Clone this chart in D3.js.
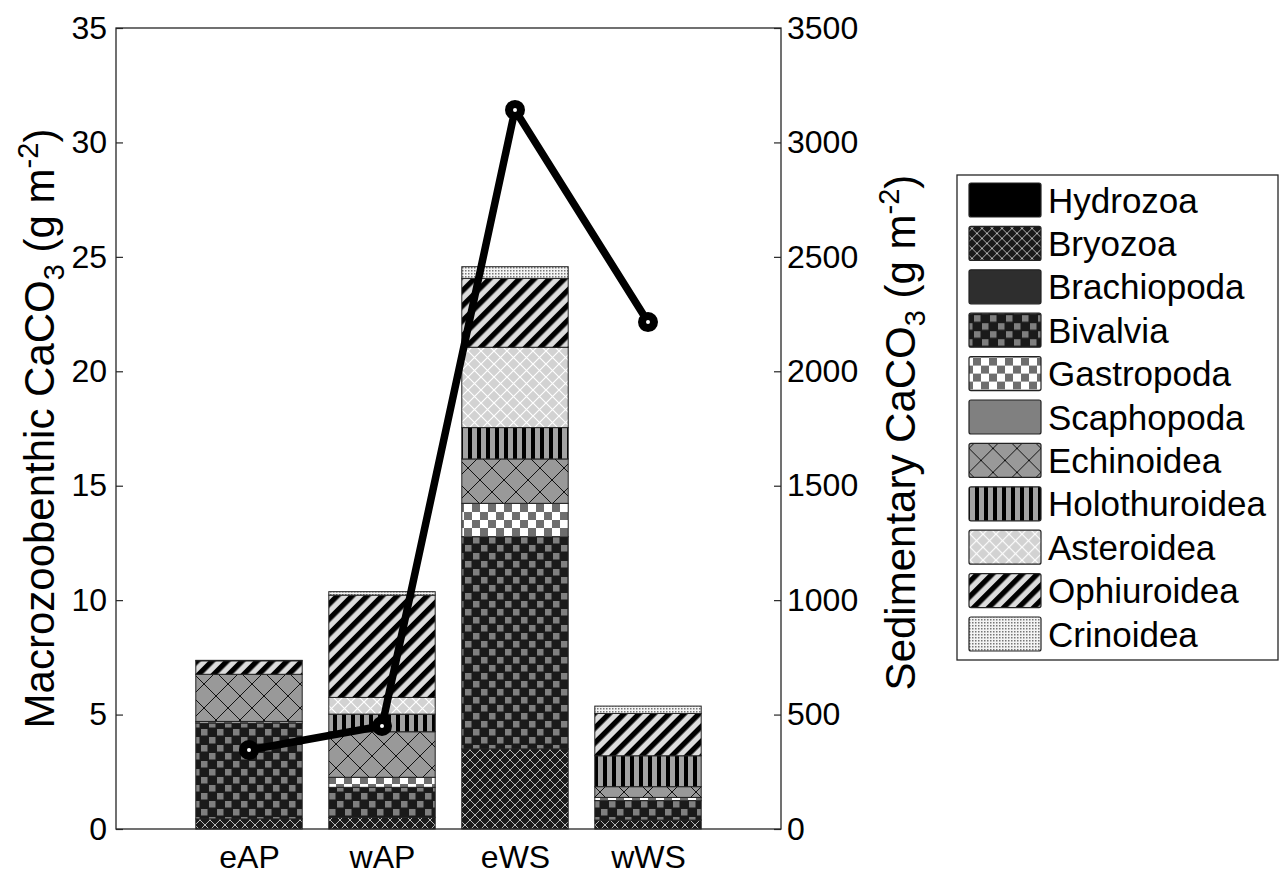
<!DOCTYPE html>
<html>
<head>
<meta charset="utf-8">
<script src="https://cdn.jsdelivr.net/npm/d3@7"></script>
<style>
  body { margin: 0; background: #fff; }
  text { font-family: "Liberation Sans", Arial, sans-serif; fill: #000; }
</style>
</head>
<body>
<script>
// Sites on the x axis
const sites = ["eAP", "wAP", "eWS", "wWS"];

// Macrozoobenthic CaCO3 per taxon (g m-2), one value per site
const hydrozoa      = [0,    0,    0,    0];
const bryozoa       = [0.44, 0.51, 3.50, 0.39];
const brachiopoda   = [0,    0,    0,    0];
const bivalvia      = [4.19, 1.31, 9.27, 0.85];
const gastropoda    = [0.07, 0.44, 1.46, 0.14];
const scaphopoda    = [0,    0,    0,    0];
const echinoidea    = [2.06, 1.99, 1.94, 0.47];
const holothuroidea = [0,    0.77, 1.37, 1.35];
const asteroidea    = [0,    0.73, 3.51, 0];
const ophiuroidea   = [0.59, 4.47, 3.01, 1.85];
const crinoidea     = [0.02, 0.15, 0.51, 0.32];

// Sedimentary CaCO3 (g m-2), right axis
const sediment = [345, 450, 3142, 2215];

const taxa = ["Hydrozoa", "Bryozoa", "Brachiopoda", "Bivalvia", "Gastropoda", "Scaphopoda",
              "Echinoidea", "Holothuroidea", "Asteroidea", "Ophiuroidea", "Crinoidea"];
const taxaValues = [hydrozoa, bryozoa, brachiopoda, bivalvia, gastropoda, scaphopoda,
                    echinoidea, holothuroidea, asteroidea, ophiuroidea, crinoidea];

const leftTicks = d3.range(0, 36, 5);
const rightTicks = d3.range(0, 3501, 500);

// table for d3.stack
const table = sites.map((s, i) => {
    const row = { site: s };
    taxa.forEach((t, j) => row[t] = taxaValues[j][i]);
    return row;
});

const W = 1282, H = 878;
const margin = { top: 28, right: 501, bottom: 49, left: 116 };
const x0 = margin.left, x1 = W - margin.right, y0 = H - margin.bottom, y1 = margin.top;

const svg = d3.select("body").append("svg")
    .attr("width", W)
    .attr("height", H);

// patterns
const defs = svg.append("defs");
function pat(id, w, h, transform) {
    const p = defs.append("pattern")
        .attr("id", id)
        .attr("patternUnits", "userSpaceOnUse")
        .attr("width", w)
        .attr("height", h);
    if (transform) p.attr("patternTransform", transform);
    return p;
}
let p;
p = pat("p-bryozoa", 10, 10);
p.append("rect").attr("width", 10).attr("height", 10).attr("fill", "#1a1a1a");
p.append("path").attr("d", "M0,0L10,10M10,0L0,10").attr("stroke", "#b5b5b5").attr("stroke-width", 1);

p = pat("p-bivalvia", 16, 16);
p.append("rect").attr("width", 16).attr("height", 16).attr("fill", "#1a1a1a");
p.append("rect").attr("x", 1).attr("y", 1).attr("width", 6.5).attr("height", 6.5).attr("fill", "#7f7f7f");
p.append("rect").attr("x", 9).attr("y", 9).attr("width", 6.5).attr("height", 6.5).attr("fill", "#7f7f7f");

p = pat("p-gastropoda", 16, 16);
p.append("rect").attr("width", 16).attr("height", 16).attr("fill", "#fff");
p.append("rect").attr("width", 8).attr("height", 8).attr("fill", "#6e6e6e");
p.append("rect").attr("x", 8).attr("y", 8).attr("width", 8).attr("height", 8).attr("fill", "#6e6e6e");

p = pat("p-echinoidea", 24, 24);
p.append("rect").attr("width", 24).attr("height", 24).attr("fill", "#999");
p.append("path").attr("d", "M0,0L24,24M24,0L0,24").attr("stroke", "#111").attr("stroke-width", 1);

p = pat("p-holothuroidea", 9, 9);
p.append("rect").attr("width", 9).attr("height", 9).attr("fill", "#a3a3a3");
p.append("rect").attr("width", 4).attr("height", 9).attr("fill", "#000");

p = pat("p-asteroidea", 13, 13);
p.append("rect").attr("width", 13).attr("height", 13).attr("fill", "#d2d2d2");
p.append("path").attr("d", "M0,0L13,13M13,0L0,13").attr("stroke", "#fff").attr("stroke-width", 1.2);

p = pat("p-ophiuroidea", 10.6, 10.6, "rotate(45)");
p.append("rect").attr("width", 10.6).attr("height", 10.6).attr("fill", "#dcdcdc");
p.append("rect").attr("width", 5.3).attr("height", 10.6).attr("fill", "#000");

p = pat("p-crinoidea", 3, 3);
p.append("rect").attr("width", 3).attr("height", 3).attr("fill", "#f4f4f4");
p.append("rect").attr("width", 1.5).attr("height", 1.5).attr("fill", "#777");

const fills = {
    Hydrozoa: "#000",
    Bryozoa: "url(#p-bryozoa)",
    Brachiopoda: "#2e2e2e",
    Bivalvia: "url(#p-bivalvia)",
    Gastropoda: "url(#p-gastropoda)",
    Scaphopoda: "#808080",
    Echinoidea: "url(#p-echinoidea)",
    Holothuroidea: "url(#p-holothuroidea)",
    Asteroidea: "url(#p-asteroidea)",
    Ophiuroidea: "url(#p-ophiuroidea)",
    Crinoidea: "url(#p-crinoidea)"
};

// scales
const x = d3.scaleLinear().domain([0, sites.length + 1]).range([x0, x1]);
const yL = d3.scaleLinear().domain([0, 35]).range([y0, y1]);
const yR = d3.scaleLinear().domain([0, 3500]).range([y0, y1]);
const barW = 0.8 * (x(1) - x(0));

// axes (ticks pointing inward)
const axisColor = "#262626";
const gL = svg.append("g").attr("transform", `translate(${x0},0)`)
    .call(d3.axisRight(yL).tickValues(leftTicks).tickSize(7).tickFormat(d3.format("d")));
gL.selectAll("text").attr("x", -9).attr("text-anchor", "end");
const gR = svg.append("g").attr("transform", `translate(${x1},0)`)
    .call(d3.axisLeft(yR).tickValues(rightTicks).tickSize(7).tickFormat(d3.format("d")));
gR.selectAll("text").attr("x", 6).attr("text-anchor", "start");
const gB = svg.append("g").attr("transform", `translate(0,${y0})`)
    .call(d3.axisTop(x).tickValues(d3.range(1, sites.length + 1)).tickSize(7)
        .tickFormat(d => sites[d - 1]));
gB.selectAll("text").attr("y", 39).attr("dy", "0");
[gL, gR, gB].forEach(g => {
    g.select(".domain").remove();
    g.selectAll("line").attr("stroke", axisColor).attr("stroke-width", 1.2);
    g.selectAll("text").style("font-size", "32px").attr("fill", "#000");
});

// stacked bars
const stack = d3.stack().keys(taxa);
const series = stack(table);

svg.append("g")
    .selectAll("g")
    .data(series)
    .join("g")
    .attr("fill", d => fills[d.key])
    .selectAll("rect")
    .data(d => d.filter(s => s[1] - s[0] > 0))
    .join("rect")
    .attr("x", (d) => x(sites.indexOf(d.data.site) + 1) - barW / 2)
    .attr("y", d => yL(d[1]))
    .attr("width", barW)
    .attr("height", d => yL(d[0]) - yL(d[1]))
    .attr("stroke", "#222")
    .attr("stroke-width", 1);

// box
svg.append("rect")
    .attr("x", x0).attr("y", y1)
    .attr("width", x1 - x0).attr("height", y0 - y1)
    .attr("fill", "none")
    .attr("stroke", axisColor)
    .attr("stroke-width", 1.3);

// sediment line
const line = d3.line()
    .x((d, i) => x(i + 1))
    .y(d => yR(d));
svg.append("path")
    .datum(sediment)
    .attr("d", line)
    .attr("fill", "none")
    .attr("stroke", "#000")
    .attr("stroke-width", 7.5)
    .attr("stroke-linejoin", "round");
svg.append("g")
    .selectAll("circle")
    .data(sediment)
    .join("circle")
    .attr("cx", (d, i) => x(i + 1))
    .attr("cy", d => yR(d))
    .attr("r", 6)
    .attr("fill", "#fff")
    .attr("stroke", "#000")
    .attr("stroke-width", 8);

// axis labels
function unitLabel(g, name) {
    const t = g.append("text").attr("text-anchor", "middle").style("font-size", "42px");
    t.append("tspan").text(name + " CaCO");
    t.append("tspan").attr("dy", 10).style("font-size", "29px").text("3");
    t.append("tspan").attr("dy", -10).text(" (g m");
    t.append("tspan").attr("dy", -16).style("font-size", "29px").text("-2");
    t.append("tspan").attr("dy", 16).text(")");
    return t;
}
unitLabel(svg.append("g").attr("transform", `translate(54,${(y0 + y1) / 2}) rotate(-90)`), "Macrozoobenthic");
unitLabel(svg.append("g").attr("transform", `translate(915,${(y0 + y1) / 2 + 4}) rotate(-90)`), "Sedimentary");

// legend
const lg = svg.append("g").attr("transform", "translate(957,175)");
lg.append("rect")
    .attr("width", 321).attr("height", 485)
    .attr("fill", "#fff")
    .attr("stroke", axisColor)
    .attr("stroke-width", 1.3);
const rows = lg.selectAll("g.row")
    .data(taxa)
    .join("g")
    .attr("class", "row")
    .attr("transform", (d, i) => `translate(0,${25 + i * 43.4})`);
rows.append("rect")
    .attr("x", 12).attr("y", -17)
    .attr("width", 72).attr("height", 34)
    .attr("rx", 2)
    .attr("fill", d => fills[d])
    .attr("stroke", "#222")
    .attr("stroke-width", 1.2);
rows.append("text")
    .attr("x", 91)
    .attr("dy", "0.36em")
    .style("font-size", "35px")
    .text(d => d);
</script>
</body>
</html>
